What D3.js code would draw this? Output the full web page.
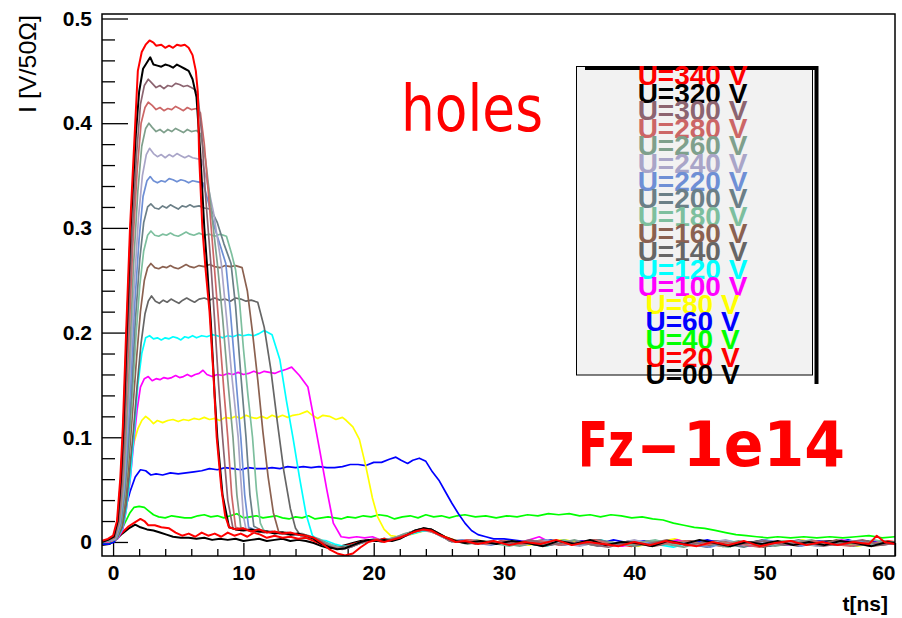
<!DOCTYPE html>
<html>
<head>
<meta charset="utf-8">
<script src="https://cdn.jsdelivr.net/npm/d3@7"></script>
<style>
  body { margin: 0; background: #ffffff; }
  svg { display: block; }
</style>
</head>
<body>
<svg id="chart" width="902" height="618"></svg>
<script>
// Bias voltages, one waveform each, listed top to bottom as in the legend
const voltages = [340, 320, 300, 280, 260, 240, 220, 200, 180, 160, 140, 120, 100, 80, 60, 40, 20, 0];
const legendLabels = ["U=340 V", "U=320 V", "U=300 V", "U=280 V", "U=260 V", "U=240 V", "U=220 V", "U=200 V", "U=180 V",
  "U=160 V", "U=140 V", "U=120 V", "U=100 V", "U=80 V", "U=60 V", "U=40 V", "U=20 V", "U=00 V"];
const colors = ["#ff0000", "#000000", "#8c6470", "#cc6666", "#7fa08c", "#a9a5c8", "#6e8fd5", "#6b7f87", "#7dbf9e",
  "#8b6150", "#666666", "#00ffff", "#ff00ff", "#ffff00", "#0000ff", "#00ff00", "#ff0000", "#000000"];

// Current waveforms: [t (ns), I (V/50 Ohm)]
const u340 = [[-0.85,0.001],[-0.4,0.003],[0.0,0.006],[0.3,0.02],[0.55,0.06],[0.75,0.11],[1.0,0.20],[1.3,0.30],[1.7,0.40],[1.9,0.45],[2.2,0.468],[2.5,0.475],[2.8,0.479],[3.1,0.477],[3.3,0.474],[3.7,0.475],[4.0,0.472],[4.3,0.474],[4.6,0.472],[4.9,0.475],[5.2,0.474],[5.5,0.475],[5.8,0.472],[6.1,0.465],[6.35,0.45],[6.5,0.43],[6.6,0.37],[6.85,0.30],[7.1,0.26],[7.4,0.22],[7.7,0.16],[7.95,0.10],[8.3,0.052],[8.6,0.025],[8.9,0.014],[9.4,0.012],[10.0,0.013],[10.6,0.010],[11.2,0.012],[11.8,0.009],[12.4,0.010],[13.0,0.008],[13.6,0.009],[14.2,0.007],[14.8,0.006],[15.4,0.004],[16.0,-0.001],[16.6,-0.007],[17.2,-0.011],[17.8,-0.013],[18.4,-0.011],[19.0,-0.005],[19.6,0.000],[20.2,0.002],[20.8,0.000],[21.4,0.002],[22.0,0.004],[22.6,0.007],[23.2,0.010],[23.8,0.012],[24.4,0.011],[25.0,0.007],[25.6,0.004],[26.3,0.000],[27.0,0.001],[28.0,-0.002],[29.2,0.001],[30.4,-0.003],[31.6,0.000],[32.8,-0.002],[34.0,0.002],[35.2,-0.003],[36.4,0.000],[37.6,-0.002],[38.8,-0.004],[40.0,0.000],[41.2,-0.003],[42.4,0.001],[43.6,-0.002],[44.8,-0.004],[46.0,0.000],[47.2,-0.003],[48.4,0.001],[49.6,-0.004],[50.8,-0.001],[52.0,0.001],[53.2,-0.003],[54.4,0.000],[55.6,-0.003],[56.8,0.000],[58.0,-0.002],[58.6,0.006],[59.2,0.000],[60.0,-0.002]];
const u320 = [[-0.85,0.000],[-0.4,0.002],[0.05,0.005],[0.35,0.02],[0.6,0.06],[0.8,0.11],[1.05,0.20],[1.35,0.30],[1.75,0.39],[2.0,0.43],[2.3,0.452],[2.6,0.458],[2.85,0.463],[3.1,0.456],[3.4,0.455],[3.7,0.454],[4.0,0.456],[4.3,0.455],[4.6,0.453],[4.9,0.456],[5.2,0.454],[5.5,0.452],[5.8,0.450],[6.1,0.442],[6.4,0.425],[6.7,0.37],[7.0,0.30],[7.2,0.266],[7.5,0.21],[7.8,0.14],[8.0,0.10],[8.4,0.045],[8.9,0.014],[9.4,0.012],[10.0,0.011],[10.6,0.012],[11.2,0.010],[11.8,0.010],[12.4,0.008],[13.0,0.009],[13.6,0.007],[14.2,0.008],[14.8,0.006],[15.4,0.003],[16.0,-0.002],[16.6,-0.005],[17.2,-0.007],[17.8,-0.006],[18.4,-0.003],[19.0,0.000],[19.6,0.002],[20.2,0.001],[20.8,0.002],[21.4,0.001],[22.0,0.003],[22.6,0.007],[23.2,0.011],[23.8,0.013],[24.4,0.012],[25.0,0.008],[25.6,0.004],[26.3,0.001],[27.0,-0.001],[28.2,0.001],[29.4,-0.002],[30.6,0.001],[31.8,-0.001],[33.0,-0.004],[34.2,0.001],[35.4,-0.002],[36.6,0.002],[37.8,-0.003],[39.0,0.000],[40.2,-0.001],[41.4,-0.004],[42.6,0.001],[43.8,-0.002],[45.0,0.002],[46.2,-0.001],[47.4,-0.004],[48.6,0.000],[49.8,-0.002],[51.0,0.001],[52.2,-0.003],[53.4,0.000],[54.6,-0.003],[55.8,0.001],[57.0,-0.001],[58.2,-0.004],[59.4,0.000],[60.0,-0.001]];
const u300 = [[-0.85,0.001],[-0.4,0.002],[0.1,0.005],[0.4,0.02],[0.65,0.055],[0.85,0.10],[1.1,0.19],[1.45,0.29],[1.8,0.37],[2.1,0.418],[2.4,0.436],[2.7,0.442],[3.0,0.438],[3.3,0.434],[3.6,0.436],[3.9,0.433],[4.2,0.436],[4.5,0.435],[4.8,0.438],[5.1,0.437],[5.4,0.435],[5.7,0.436],[6.0,0.434],[6.3,0.432],[6.5,0.428],[6.8,0.39],[7.1,0.33],[7.5,0.266],[7.8,0.21],[8.1,0.15],[8.4,0.10],[8.8,0.04],[9.2,0.013],[9.8,0.011],[10.4,0.012],[11.0,0.010],[11.6,0.009],[12.2,0.010],[12.8,0.008],[13.4,0.008],[14.0,0.007],[14.6,0.006],[15.2,0.005],[15.8,0.002],[16.4,-0.003],[17.0,-0.006],[17.6,-0.007],[18.2,-0.005],[18.8,-0.002],[19.4,0.001],[20.0,0.002],[20.6,0.000],[21.2,0.002],[21.8,0.004],[22.4,0.006],[23.0,0.009],[23.6,0.011],[24.2,0.012],[24.8,0.009],[25.4,0.005],[26.0,0.000],[26.8,0.001],[27.8,-0.002],[29.0,0.001],[30.5,-0.002],[32.0,0.002],[33.5,-0.003],[35.0,0.000],[36.5,-0.002],[38.0,-0.005],[39.5,0.000],[41.0,-0.002],[42.5,0.002],[44.0,-0.003],[45.5,0.000],[47.0,-0.004],[48.5,-0.001],[50.0,0.001],[51.5,-0.003],[53.0,0.000],[54.5,-0.004],[56.0,-0.001],[57.5,0.002],[59.0,-0.003],[60.0,-0.001]];
const u280 = [[-0.85,0.000],[-0.4,0.002],[0.1,0.004],[0.45,0.02],[0.7,0.055],[0.9,0.10],[1.2,0.19],[1.5,0.28],[1.85,0.355],[2.15,0.40],[2.45,0.415],[2.7,0.420],[3.0,0.417],[3.3,0.413],[3.6,0.415],[3.9,0.412],[4.2,0.414],[4.5,0.413],[4.8,0.416],[5.1,0.414],[5.4,0.412],[5.7,0.415],[6.0,0.413],[6.4,0.414],[6.7,0.41],[7.0,0.38],[7.4,0.32],[7.75,0.266],[8.1,0.21],[8.5,0.145],[8.8,0.10],[9.1,0.045],[9.4,0.014],[10.0,0.012],[10.6,0.010],[11.2,0.011],[11.8,0.009],[12.4,0.010],[13.0,0.008],[13.6,0.007],[14.2,0.008],[14.8,0.006],[15.4,0.004],[16.0,0.000],[16.6,-0.004],[17.2,-0.006],[17.8,-0.006],[18.4,-0.004],[19.0,-0.001],[19.6,0.001],[20.2,0.003],[20.8,0.001],[21.4,0.002],[22.0,0.005],[22.6,0.007],[23.2,0.010],[23.8,0.012],[24.4,0.010],[25.0,0.007],[25.6,0.003],[26.4,0.000],[27.4,0.002],[28.6,-0.002],[30.0,0.001],[31.4,-0.002],[32.8,0.001],[34.2,-0.003],[35.6,-0.001],[37.0,0.002],[38.4,-0.003],[39.8,0.000],[41.2,-0.004],[42.6,-0.001],[44.0,0.001],[45.4,-0.003],[46.8,0.000],[48.2,-0.002],[49.6,-0.005],[51.0,0.000],[52.4,-0.003],[53.8,0.001],[55.2,-0.002],[56.6,-0.004],[58.0,0.000],[59.4,-0.002],[60.0,-0.001]];
const u260 = [[-0.85,0.001],[-0.4,0.001],[0.15,0.004],[0.5,0.02],[0.75,0.05],[0.95,0.09],[1.25,0.17],[1.55,0.26],[1.9,0.335],[2.2,0.378],[2.5,0.395],[2.75,0.400],[3.0,0.396],[3.3,0.392],[3.6,0.394],[3.9,0.391],[4.2,0.394],[4.5,0.392],[4.8,0.395],[5.1,0.393],[5.4,0.391],[5.7,0.394],[6.0,0.392],[6.4,0.393],[6.7,0.39],[7.1,0.365],[7.6,0.31],[8.0,0.266],[8.4,0.215],[8.8,0.155],[9.2,0.10],[9.5,0.045],[9.8,0.014],[10.4,0.011],[11.0,0.010],[11.6,0.011],[12.2,0.009],[12.8,0.009],[13.4,0.007],[14.0,0.008],[14.6,0.006],[15.2,0.005],[15.8,0.002],[16.4,-0.002],[17.0,-0.005],[17.6,-0.006],[18.2,-0.004],[18.8,-0.001],[19.4,0.001],[20.0,0.002],[20.6,0.001],[21.2,0.003],[21.8,0.005],[22.4,0.008],[23.0,0.010],[23.6,0.011],[24.2,0.011],[24.8,0.008],[25.4,0.004],[26.2,0.001],[27.2,-0.002],[28.4,0.001],[29.8,-0.001],[31.2,-0.004],[32.6,0.000],[34.0,-0.002],[35.4,0.002],[36.8,-0.003],[38.2,0.000],[39.6,-0.003],[41.0,0.001],[42.4,-0.002],[43.8,-0.005],[45.2,0.000],[46.6,-0.003],[48.0,0.001],[49.4,-0.002],[50.8,-0.004],[52.2,-0.001],[53.6,0.002],[55.0,-0.003],[56.4,0.000],[57.8,-0.003],[59.2,0.001],[60.0,-0.001]];
const u240 = [[-0.85,0.000],[-0.4,0.001],[0.15,0.003],[0.5,0.018],[0.8,0.05],[1.0,0.09],[1.3,0.16],[1.6,0.24],[1.95,0.31],[2.25,0.35],[2.55,0.370],[2.8,0.376],[3.1,0.371],[3.4,0.368],[3.7,0.370],[4.0,0.367],[4.3,0.370],[4.6,0.368],[4.9,0.371],[5.2,0.369],[5.5,0.367],[5.8,0.369],[6.1,0.367],[6.5,0.366],[6.8,0.365],[7.2,0.345],[7.7,0.315],[8.3,0.266],[8.7,0.215],[9.1,0.16],[9.6,0.10],[9.8,0.06],[10.0,0.025],[10.2,0.012],[10.8,0.010],[11.4,0.011],[12.0,0.009],[12.6,0.009],[13.2,0.008],[13.8,0.007],[14.4,0.008],[15.0,0.005],[15.6,0.003],[16.2,-0.001],[16.8,-0.004],[17.4,-0.006],[18.0,-0.005],[18.6,-0.002],[19.2,0.000],[19.8,0.002],[20.4,0.001],[21.0,0.002],[21.6,0.004],[22.2,0.007],[22.8,0.009],[23.4,0.011],[24.0,0.012],[24.6,0.009],[25.2,0.005],[25.8,0.002],[26.6,0.000],[27.6,0.002],[28.8,-0.002],[30.2,0.001],[31.6,-0.002],[33.0,0.001],[34.4,-0.001],[35.8,-0.004],[37.2,0.000],[38.6,-0.002],[40.0,0.002],[41.4,-0.003],[42.8,0.000],[44.2,-0.003],[45.6,-0.001],[47.0,0.002],[48.4,-0.003],[49.8,0.000],[51.2,-0.003],[52.6,0.001],[54.0,-0.004],[55.4,-0.001],[56.8,0.001],[58.2,-0.003],[59.6,-0.001],[60.0,-0.001]];
const u220 = [[-0.85,0.001],[-0.4,0.001],[0.2,0.003],[0.55,0.018],[0.85,0.05],[1.05,0.085],[1.35,0.15],[1.65,0.225],[2.0,0.29],[2.3,0.33],[2.6,0.345],[2.85,0.349],[3.1,0.345],[3.4,0.343],[3.7,0.345],[4.0,0.344],[4.3,0.347],[4.6,0.346],[4.9,0.344],[5.2,0.346],[5.5,0.345],[5.8,0.343],[6.1,0.345],[6.5,0.344],[6.9,0.343],[7.3,0.325],[7.8,0.30],[8.3,0.28],[8.65,0.266],[9.0,0.22],[9.4,0.16],[9.8,0.10],[10.1,0.045],[10.4,0.014],[11.0,0.011],[11.6,0.010],[12.2,0.010],[12.8,0.008],[13.4,0.009],[14.0,0.007],[14.6,0.006],[15.2,0.005],[15.8,0.002],[16.4,-0.002],[17.0,-0.005],[17.6,-0.007],[18.2,-0.005],[18.8,-0.002],[19.4,0.001],[20.0,0.003],[20.6,0.001],[21.2,0.002],[21.8,0.005],[22.4,0.007],[23.0,0.010],[23.6,0.012],[24.2,0.011],[24.8,0.008],[25.4,0.004],[26.0,0.001],[26.8,0.002],[27.8,-0.001],[29.0,-0.003],[30.4,0.001],[31.8,-0.001],[33.2,0.002],[34.6,-0.003],[36.0,0.000],[37.4,-0.004],[38.8,-0.001],[40.2,0.001],[41.6,-0.003],[43.0,0.000],[44.4,-0.002],[45.8,-0.005],[47.2,0.000],[48.6,-0.003],[50.0,0.002],[51.4,-0.001],[52.8,-0.004],[54.2,0.000],[55.6,-0.003],[57.0,0.001],[58.4,-0.002],[60.0,-0.002]];
const u200 = [[-0.85,0.000],[-0.4,0.001],[0.2,0.003],[0.6,0.018],[0.9,0.05],[1.1,0.08],[1.4,0.14],[1.7,0.21],[2.05,0.27],[2.35,0.305],[2.65,0.320],[2.9,0.323],[3.2,0.319],[3.5,0.318],[3.8,0.321],[4.1,0.319],[4.4,0.322],[4.7,0.320],[5.0,0.318],[5.3,0.321],[5.6,0.320],[5.9,0.322],[6.2,0.320],[6.6,0.321],[7.0,0.319],[7.5,0.318],[8.0,0.305],[8.5,0.285],[9.05,0.266],[9.4,0.225],[9.8,0.16],[10.2,0.10],[10.5,0.045],[10.8,0.015],[11.4,0.011],[12.0,0.010],[12.6,0.009],[13.2,0.009],[13.8,0.007],[14.4,0.007],[15.0,0.006],[15.6,0.003],[16.2,0.000],[16.8,-0.004],[17.4,-0.006],[18.0,-0.006],[18.6,-0.003],[19.2,0.000],[19.8,0.002],[20.4,0.002],[21.0,0.001],[21.6,0.004],[22.2,0.006],[22.8,0.009],[23.4,0.011],[24.0,0.012],[24.6,0.010],[25.2,0.006],[25.8,0.002],[26.6,0.000],[27.6,0.001],[28.8,-0.002],[30.2,0.001],[31.6,-0.001],[33.0,-0.004],[34.4,0.000],[35.8,-0.003],[37.2,0.002],[38.6,-0.001],[40.0,-0.004],[41.4,-0.001],[42.8,0.001],[44.2,-0.003],[45.6,0.000],[47.0,-0.002],[48.4,-0.005],[49.8,0.000],[51.2,-0.002],[52.6,0.002],[54.0,-0.003],[55.4,0.000],[56.8,-0.004],[58.2,-0.001],[60.0,0.000]];
const u180 = [[-0.85,0.000],[-0.4,0.001],[0.25,0.003],[0.6,0.016],[0.9,0.045],[1.15,0.08],[1.45,0.135],[1.75,0.195],[2.05,0.245],[2.35,0.278],[2.65,0.293],[2.9,0.297],[3.2,0.293],[3.5,0.292],[3.8,0.294],[4.1,0.293],[4.4,0.295],[4.7,0.293],[5.0,0.292],[5.3,0.294],[5.6,0.296],[5.9,0.294],[6.2,0.293],[6.6,0.295],[7.0,0.293],[7.4,0.294],[7.8,0.292],[8.2,0.294],[8.7,0.292],[9.1,0.275],[9.4,0.26],[9.7,0.23],[10.0,0.185],[10.35,0.14],[10.7,0.10],[11.0,0.05],[11.3,0.018],[11.6,0.010],[12.2,0.010],[12.8,0.008],[13.4,0.009],[14.0,0.007],[14.6,0.007],[15.2,0.005],[15.8,0.003],[16.4,-0.001],[17.0,-0.004],[17.6,-0.006],[18.2,-0.004],[18.8,-0.001],[19.4,0.001],[20.0,0.002],[20.6,0.000],[21.2,0.002],[21.8,0.004],[22.4,0.007],[23.0,0.010],[23.6,0.011],[24.2,0.012],[24.8,0.009],[25.4,0.005],[26.0,0.001],[26.8,0.000],[27.8,0.002],[29.0,-0.001],[30.4,-0.004],[31.8,0.000],[33.2,-0.002],[34.6,0.002],[36.0,-0.003],[37.4,0.000],[38.8,-0.003],[40.2,-0.001],[41.6,0.002],[43.0,-0.003],[44.4,0.000],[45.8,-0.002],[47.2,-0.005],[48.6,0.000],[50.0,-0.003],[51.4,0.001],[52.8,-0.002],[54.2,-0.004],[55.6,0.000],[57.0,-0.002],[58.4,0.002],[60.0,-0.002]];
const u160 = [[-0.85,0.000],[-0.4,0.001],[0.25,0.003],[0.65,0.015],[0.95,0.04],[1.2,0.075],[1.5,0.125],[1.8,0.175],[2.1,0.22],[2.4,0.25],[2.65,0.262],[2.9,0.266],[3.2,0.262],[3.5,0.261],[3.8,0.263],[4.1,0.262],[4.4,0.264],[4.7,0.262],[5.0,0.261],[5.3,0.263],[5.6,0.265],[5.9,0.263],[6.2,0.262],[6.6,0.264],[7.0,0.263],[7.4,0.265],[7.8,0.263],[8.2,0.262],[8.6,0.264],[9.0,0.263],[9.4,0.264],[9.9,0.262],[10.3,0.24],[10.7,0.20],[11.1,0.155],[11.5,0.105],[11.9,0.062],[12.3,0.028],[12.7,0.010],[13.3,0.009],[13.9,0.007],[14.5,0.008],[15.1,0.005],[15.7,0.003],[16.3,-0.001],[16.9,-0.004],[17.5,-0.006],[18.1,-0.005],[18.7,-0.002],[19.3,0.000],[19.9,0.002],[20.5,0.001],[21.1,0.002],[21.7,0.004],[22.3,0.006],[22.9,0.009],[23.5,0.011],[24.1,0.012],[24.7,0.010],[25.3,0.006],[25.9,0.001],[26.7,0.000],[27.7,0.002],[28.9,-0.002],[30.3,0.001],[31.7,-0.001],[33.1,-0.004],[34.5,0.000],[35.9,-0.002],[37.3,0.002],[38.7,-0.003],[40.1,0.000],[41.5,-0.004],[42.9,-0.001],[44.3,0.001],[45.7,-0.003],[47.1,0.000],[48.5,-0.002],[49.9,-0.005],[51.3,-0.001],[52.7,0.001],[54.1,-0.003],[55.5,0.002],[56.9,-0.002],[58.3,-0.004],[60.0,-0.001]];
const u140 = [[-0.85,0.000],[-0.4,0.001],[0.3,0.003],[0.7,0.014],[1.0,0.035],[1.25,0.065],[1.55,0.105],[1.85,0.15],[2.15,0.19],[2.45,0.218],[2.7,0.230],[2.95,0.235],[3.25,0.230],[3.55,0.228],[3.85,0.231],[4.15,0.229],[4.45,0.232],[4.75,0.230],[5.05,0.228],[5.35,0.231],[5.65,0.233],[5.95,0.231],[6.25,0.229],[6.6,0.232],[7.0,0.233],[7.4,0.231],[7.8,0.233],[8.2,0.231],[8.6,0.232],[9.0,0.230],[9.4,0.233],[9.8,0.232],[10.2,0.230],[10.6,0.231],[11.1,0.229],[11.6,0.205],[12.1,0.165],[12.6,0.115],[13.1,0.068],[13.6,0.032],[14.0,0.013],[14.4,0.006],[15.0,0.005],[15.6,0.003],[16.2,0.000],[16.8,-0.003],[17.4,-0.005],[18.0,-0.004],[18.6,-0.002],[19.2,0.000],[19.8,0.002],[20.4,0.001],[21.0,0.002],[21.6,0.004],[22.2,0.006],[22.8,0.009],[23.4,0.011],[24.0,0.012],[24.6,0.010],[25.2,0.006],[25.8,0.001],[26.6,0.000],[27.6,0.001],[28.8,-0.002],[30.2,0.001],[31.6,-0.001],[33.0,0.002],[34.4,-0.003],[35.8,0.000],[37.2,-0.004],[38.6,-0.001],[40.0,0.001],[41.4,-0.003],[42.8,0.000],[44.2,-0.002],[45.6,-0.005],[47.0,0.000],[48.4,-0.003],[49.8,0.002],[51.2,-0.001],[52.6,-0.004],[54.0,0.000],[55.4,-0.003],[56.8,0.001],[58.2,-0.002],[60.0,-0.002]];
const u120 = [[-0.85,0.000],[-0.4,0.001],[0.3,0.003],[0.7,0.012],[1.0,0.03],[1.35,0.065],[1.65,0.11],[1.9,0.15],[2.2,0.18],[2.5,0.195],[2.8,0.197],[3.1,0.194],[3.4,0.195],[3.7,0.193],[4.0,0.195],[4.3,0.194],[4.6,0.196],[4.9,0.195],[5.2,0.193],[5.5,0.196],[5.8,0.195],[6.1,0.197],[6.4,0.195],[6.8,0.197],[7.2,0.196],[7.6,0.198],[8.0,0.197],[8.4,0.195],[8.8,0.197],[9.2,0.196],[9.6,0.198],[10.0,0.197],[10.4,0.198],[10.8,0.197],[11.2,0.199],[11.6,0.202],[12.2,0.198],[12.8,0.174],[13.3,0.135],[13.8,0.10],[14.3,0.062],[14.8,0.027],[15.3,0.006],[15.8,0.002],[16.4,0.001],[17.0,-0.002],[17.6,-0.004],[18.2,-0.004],[18.8,-0.002],[19.4,0.000],[20.0,0.002],[20.6,0.001],[21.2,0.003],[21.8,0.004],[22.4,0.006],[23.0,0.008],[23.6,0.010],[24.2,0.011],[24.8,0.008],[25.4,0.005],[26.0,0.001],[26.8,0.000],[27.8,0.001],[29.0,-0.002],[30.4,0.001],[31.8,-0.001],[33.2,-0.004],[34.6,0.000],[36.0,-0.002],[37.4,0.002],[38.8,-0.003],[40.2,0.000],[41.6,-0.002],[43.0,-0.005],[44.4,0.000],[45.8,-0.003],[47.2,0.001],[48.6,-0.002],[50.0,0.002],[51.4,-0.003],[52.8,0.000],[54.2,-0.004],[55.6,-0.001],[57.0,0.001],[58.4,-0.003],[60.0,-0.001]];
const u100 = [[-0.85,0.000],[-0.4,0.000],[0.35,0.003],[0.75,0.012],[1.0,0.03],[1.3,0.058],[1.6,0.097],[1.85,0.127],[2.1,0.148],[2.4,0.156],[2.7,0.158],[3.0,0.154],[3.3,0.156],[3.6,0.155],[3.9,0.157],[4.2,0.156],[4.5,0.157],[4.8,0.159],[5.1,0.157],[5.4,0.158],[5.7,0.160],[6.0,0.158],[6.3,0.160],[6.6,0.161],[6.9,0.164],[7.2,0.160],[7.6,0.158],[8.0,0.160],[8.4,0.159],[8.8,0.161],[9.2,0.160],[9.6,0.162],[10.0,0.160],[10.4,0.161],[10.8,0.163],[11.2,0.161],[11.6,0.163],[12.0,0.162],[12.4,0.161],[12.8,0.163],[13.3,0.165],[13.7,0.167],[14.3,0.159],[14.95,0.148],[15.3,0.125],[15.85,0.088],[16.4,0.05],[16.9,0.018],[17.5,0.005],[18.1,0.004],[18.7,0.005],[19.3,0.004],[19.9,0.005],[20.5,0.002],[21.1,0.001],[21.7,0.003],[22.3,0.005],[22.9,0.008],[23.5,0.010],[24.1,0.011],[24.7,0.009],[25.3,0.005],[25.9,0.002],[26.7,0.000],[27.7,0.002],[28.9,-0.001],[30.3,-0.002],[31.7,0.001],[32.7,0.005],[33.5,0.000],[34.9,-0.002],[36.3,0.001],[37.7,-0.002],[39.1,-0.004],[40.5,0.000],[41.9,-0.002],[43.3,0.002],[44.7,-0.003],[46.1,0.000],[47.5,-0.002],[48.9,-0.004],[50.3,0.001],[51.7,-0.003],[53.1,0.001],[54.5,-0.002],[55.9,0.002],[57.3,-0.003],[58.7,0.000],[60.0,-0.001]];
const u80 = [[-0.85,0.000],[-0.4,0.000],[0.3,0.003],[0.6,0.015],[0.9,0.035],[1.1,0.06],[1.35,0.08],[1.6,0.095],[1.9,0.108],[2.2,0.116],[2.5,0.120],[2.8,0.117],[3.1,0.113],[3.4,0.116],[3.8,0.114],[4.2,0.116],[4.6,0.117],[5.0,0.115],[5.4,0.117],[5.8,0.116],[6.2,0.118],[6.6,0.117],[7.0,0.119],[7.4,0.117],[7.8,0.118],[8.2,0.116],[8.6,0.119],[9.0,0.118],[9.4,0.120],[9.8,0.118],[10.2,0.121],[10.6,0.119],[11.0,0.118],[11.4,0.120],[11.8,0.118],[12.2,0.121],[12.6,0.119],[13.0,0.121],[13.4,0.119],[13.8,0.121],[14.3,0.122],[14.9,0.125],[15.3,0.121],[15.7,0.118],[16.1,0.121],[16.6,0.120],[17.1,0.117],[17.6,0.119],[17.9,0.116],[18.4,0.110],[18.9,0.098],[19.4,0.072],[19.9,0.042],[20.3,0.024],[20.8,0.012],[21.3,0.006],[21.9,0.005],[22.5,0.006],[23.1,0.008],[23.7,0.010],[24.3,0.011],[24.9,0.008],[25.5,0.005],[26.1,0.002],[26.9,0.000],[27.9,0.002],[29.1,-0.001],[30.5,0.001],[31.9,-0.003],[33.3,0.001],[34.7,0.002],[36.1,-0.002],[37.5,0.001],[38.9,-0.002],[40.3,-0.004],[41.7,0.000],[43.1,0.003],[44.5,-0.002],[45.9,0.000],[47.3,-0.002],[48.7,-0.004],[50.1,0.000],[51.5,-0.002],[52.9,0.002],[54.3,-0.003],[55.7,0.000],[57.1,-0.004],[58.5,-0.001],[60.0,0.000]];
const u60 = [[-0.85,-0.002],[-0.3,-0.002],[0.1,0.000],[0.5,0.012],[0.9,0.03],[1.3,0.048],[1.7,0.062],[2.1,0.069],[2.5,0.068],[2.9,0.064],[3.3,0.065],[3.8,0.064],[4.4,0.066],[5.0,0.065],[5.6,0.066],[6.2,0.067],[6.8,0.068],[7.4,0.070],[8.0,0.069],[8.6,0.071],[9.2,0.070],[9.8,0.069],[10.4,0.071],[11.0,0.070],[11.6,0.070],[12.2,0.071],[12.8,0.070],[13.4,0.072],[14.0,0.071],[14.6,0.072],[15.2,0.071],[15.8,0.072],[16.4,0.071],[17.0,0.071],[17.6,0.072],[18.2,0.074],[18.8,0.074],[19.4,0.073],[20.0,0.076],[20.6,0.076],[21.2,0.079],[21.7,0.081],[22.1,0.078],[22.6,0.075],[23.0,0.078],[23.5,0.080],[24.0,0.077],[24.5,0.067],[25.0,0.059],[25.5,0.048],[26.0,0.037],[26.5,0.027],[27.0,0.018],[27.5,0.011],[28.0,0.007],[28.6,0.005],[29.2,0.003],[30.0,0.003],[31.2,0.001],[32.4,-0.001],[33.6,0.002],[34.8,-0.001],[36.0,0.001],[37.2,-0.002],[38.4,0.002],[39.6,-0.001],[40.8,0.001],[42.0,-0.002],[43.2,0.001],[44.4,-0.001],[45.6,0.002],[46.8,-0.002],[48.0,0.000],[49.2,-0.001],[50.4,-0.004],[51.6,0.000],[52.8,-0.002],[54.0,0.001],[55.2,-0.001],[56.4,0.002],[57.6,-0.002],[58.8,0.001],[60.0,-0.001]];
const u40 = [[-0.85,-0.002],[-0.3,-0.001],[0.1,0.001],[0.5,0.008],[0.9,0.018],[1.3,0.028],[1.6,0.033],[2.0,0.034],[2.4,0.033],[2.7,0.030],[3.1,0.026],[3.5,0.024],[4.0,0.023],[4.5,0.025],[5.0,0.024],[5.5,0.023],[6.0,0.023],[6.5,0.025],[7.0,0.026],[7.5,0.024],[8.0,0.025],[8.5,0.023],[9.0,0.025],[9.5,0.027],[10.0,0.023],[10.5,0.024],[11.0,0.025],[11.5,0.023],[12.0,0.024],[12.5,0.025],[13.0,0.023],[13.5,0.022],[14.0,0.024],[14.5,0.023],[15.0,0.025],[15.5,0.022],[16.0,0.023],[16.5,0.024],[17.0,0.023],[17.5,0.022],[18.0,0.024],[18.6,0.023],[19.2,0.025],[19.8,0.024],[20.4,0.026],[21.0,0.025],[21.6,0.022],[22.2,0.024],[22.8,0.025],[23.4,0.023],[24.0,0.026],[24.6,0.024],[25.2,0.025],[25.8,0.023],[26.4,0.025],[27.0,0.026],[27.8,0.024],[28.6,0.025],[29.4,0.023],[30.2,0.025],[31.0,0.024],[31.8,0.026],[32.6,0.025],[33.4,0.027],[34.2,0.026],[35.0,0.027],[35.8,0.025],[36.6,0.026],[37.4,0.024],[38.2,0.026],[39.0,0.025],[39.8,0.023],[40.6,0.024],[41.4,0.022],[42.2,0.021],[43.0,0.018],[43.8,0.016],[44.6,0.014],[45.4,0.013],[46.2,0.011],[47.0,0.009],[47.8,0.007],[48.6,0.006],[49.4,0.005],[50.2,0.004],[51.0,0.005],[52.0,0.004],[53.0,0.005],[54.0,0.004],[55.0,0.005],[56.0,0.004],[57.0,0.005],[58.0,0.006],[59.0,0.004],[60.0,0.005]];
const u20 = [[-0.85,-0.002],[-0.3,0.000],[0.2,0.003],[0.7,0.009],[1.2,0.015],[1.7,0.019],[2.1,0.022],[2.4,0.020],[2.7,0.016],[3.2,0.016],[3.7,0.014],[4.3,0.013],[4.8,0.009],[5.3,0.006],[5.8,0.008],[6.3,0.005],[6.8,0.009],[7.3,0.006],[7.8,0.008],[8.3,0.005],[8.8,0.009],[9.3,0.006],[9.8,0.008],[10.3,0.005],[10.8,0.009],[11.3,0.007],[11.8,0.004],[12.4,0.006],[13.0,0.004],[13.6,0.005],[14.2,0.003],[14.8,0.004],[15.4,0.001],[16.0,-0.002],[16.6,-0.004],[17.2,-0.005],[17.8,-0.004],[18.4,-0.002],[19.0,0.000],[19.6,0.002],[20.2,0.001],[20.8,0.003],[21.4,0.002],[22.0,0.004],[22.6,0.007],[23.2,0.009],[23.8,0.011],[24.4,0.010],[25.0,0.007],[25.6,0.004],[26.4,0.001],[27.4,0.002],[28.6,-0.002],[30.0,0.001],[31.4,-0.003],[32.8,0.000],[34.2,0.001],[35.6,-0.002],[37.0,0.001],[38.4,-0.001],[39.8,-0.004],[41.2,0.001],[42.6,-0.002],[44.0,0.001],[45.4,-0.001],[46.8,-0.004],[48.2,0.000],[49.6,-0.002],[51.0,0.000],[52.4,0.001],[53.8,-0.003],[55.2,-0.001],[56.6,0.001],[58.0,-0.002],[59.4,0.001],[60.0,0.000]];
const u0 = [[-0.85,-0.003],[-0.3,-0.002],[0.2,0.002],[0.7,0.008],[1.2,0.013],[1.7,0.0165],[2.1,0.014],[2.6,0.012],[3.1,0.011],[3.6,0.009],[4.1,0.007],[4.6,0.005],[5.2,0.004],[5.8,0.004],[6.4,0.003],[7.0,0.004],[7.6,0.002],[8.2,0.003],[8.8,0.002],[9.4,0.003],[10.0,0.001],[10.6,0.002],[11.2,0.003],[11.8,0.001],[12.4,0.002],[13.0,0.003],[13.6,0.001],[14.2,0.002],[14.8,0.001],[15.4,-0.001],[16.0,-0.004],[16.6,-0.006],[17.2,-0.005],[17.8,-0.003],[18.4,-0.001],[19.0,0.001],[19.6,0.002],[20.2,0.001],[20.8,0.003],[21.4,0.002],[22.0,0.005],[22.6,0.008],[23.2,0.011],[23.8,0.013],[24.4,0.012],[25.0,0.008],[25.6,0.004],[26.4,0.000],[27.4,0.001],[28.6,-0.002],[30.0,0.001],[31.4,-0.001],[32.8,-0.003],[34.2,0.001],[35.6,-0.001],[37.0,0.002],[38.4,-0.002],[39.8,0.001],[41.2,-0.002],[42.6,0.001],[44.0,-0.003],[45.4,0.000],[46.8,0.001],[48.2,-0.002],[49.6,0.001],[51.0,-0.001],[52.4,-0.003],[53.8,0.000],[55.2,0.001],[56.6,-0.002],[58.0,0.001],[59.4,-0.002],[60.0,0.000]];

const waveforms = [u340, u320, u300, u280, u260, u240, u220, u200, u180, u160, u140, u120, u100, u80, u60, u40, u20, u0];

const xMajorTicks = [0, 10, 20, 30, 40, 50, 60];
const yMajorTicks = [0, 0.1, 0.2, 0.3, 0.4, 0.5];
const xTickLabels = ["0", "10", "20", "30", "40", "50", "60"];
const yTickLabels = ["0", "0.1", "0.2", "0.3", "0.4", "0.5"];

const svg = d3.select("#chart");
const frame = { left: 102, right: 895, top: 14, bottom: 556 };

const x = d3.scaleLinear().domain([-0.85, 60]).range([frame.left, frame.right]);
const y = d3.scaleLinear().domain([-0.0134, 0.5043]).range([frame.bottom, frame.top]);

svg.append("rect").attr("width", 902).attr("height", 618).attr("fill", "#ffffff");

svg.append("defs").append("clipPath").attr("id", "plotClip")
  .append("rect")
  .attr("x", frame.left).attr("y", frame.top)
  .attr("width", frame.right - frame.left).attr("height", frame.bottom - frame.top);

const labelFont = "'Liberation Sans', Arial, Helvetica, sans-serif";
const titleFont = "'DejaVu Sans Condensed', 'DejaVu Sans', sans-serif";

// Minor ticks
const xMinor = d3.range(0, 61, 2).filter(v => v % 10 !== 0);
const yMinor = d3.range(0, 51, 2).map(v => v / 100).filter(v => Math.round(v * 100) % 10 !== 0);

svg.append("g").attr("transform", `translate(0,${frame.bottom})`)
  .call(d3.axisBottom(x).tickValues(xMinor).tickSizeInner(-7).tickSizeOuter(0).tickFormat(""))
  .call(g => g.select(".domain").remove())
  .call(g => g.selectAll("line").attr("stroke", "#000").attr("stroke-width", 1.3));

svg.append("g").attr("transform", `translate(${frame.left},0)`)
  .call(d3.axisLeft(y).tickValues(yMinor).tickSizeInner(-13).tickSizeOuter(0).tickFormat(""))
  .call(g => g.select(".domain").remove())
  .call(g => g.selectAll("line").attr("stroke", "#000").attr("stroke-width", 1.3));

// Major ticks and labels
const xAxis = svg.append("g").attr("transform", `translate(0,${frame.bottom})`)
  .call(d3.axisBottom(x).tickValues(xMajorTicks).tickSizeInner(-13).tickSizeOuter(0).tickPadding(9)
    .tickFormat((d, i) => xTickLabels[i]))
  .call(g => g.select(".domain").remove());
xAxis.selectAll("line").attr("stroke", "#000").attr("stroke-width", 1.3);
xAxis.selectAll("text").attr("font-family", labelFont).attr("font-weight", "bold")
  .attr("font-size", 21).attr("fill", "#000");
xAxis.selectAll(".tick").filter(d => d === 60).select("text").attr("text-anchor", "end").attr("x", 0);

const yAxis = svg.append("g").attr("transform", `translate(${frame.left},0)`)
  .call(d3.axisLeft(y).tickValues(yMajorTicks).tickSizeInner(-26).tickSizeOuter(0).tickPadding(10)
    .tickFormat((d, i) => yTickLabels[i]))
  .call(g => g.select(".domain").remove());
yAxis.selectAll("line").attr("stroke", "#000").attr("stroke-width", 1.3);
yAxis.selectAll("text").attr("font-family", labelFont).attr("font-weight", "bold")
  .attr("font-size", 21).attr("fill", "#000");

// Waveforms, low bias drawn first
const line = d3.line().x(d => x(d[0])).y(d => y(d[1]));
const plot = svg.append("g").attr("clip-path", "url(#plotClip)");
for (let i = waveforms.length - 1; i >= 0; i--) {
  plot.append("path")
    .datum(waveforms[i])
    .attr("d", line)
    .attr("fill", "none")
    .attr("stroke", colors[i])
    .attr("stroke-width", (i <= 1 || i >= 16) ? 2 : 1.7)
    .attr("stroke-linejoin", "round");
}

// Frame
svg.append("rect")
  .attr("x", frame.left).attr("y", frame.top)
  .attr("width", frame.right - frame.left).attr("height", frame.bottom - frame.top)
  .attr("fill", "none").attr("stroke", "#000").attr("stroke-width", 1.5);

// Axis titles
svg.append("text")
  .attr("transform", "translate(36,15) rotate(-90)")
  .attr("text-anchor", "end")
  .attr("font-family", labelFont).attr("font-size", 24)
  .attr("textLength", 98).attr("lengthAdjust", "spacingAndGlyphs")
  .text("I [V/50\u03A9]");

svg.append("text")
  .attr("x", 888).attr("y", 611)
  .attr("text-anchor", "end")
  .attr("font-family", labelFont).attr("font-weight", "bold").attr("font-size", 21)
  .text("t[ns]");

// Legend
const legend = svg.append("g");
legend.append("rect")
  .attr("x", 576.5).attr("y", 66.5).attr("width", 236).attr("height", 308.5)
  .attr("fill", "#f2f2f2").attr("stroke", "#000").attr("stroke-width", 1);
legend.append("line").attr("x1", 585).attr("x2", 818).attr("y1", 68).attr("y2", 68)
  .attr("stroke", "#000").attr("stroke-width", 4);
legend.append("line").attr("x1", 816.5).attr("x2", 816.5).attr("y1", 66).attr("y2", 384)
  .attr("stroke", "#000").attr("stroke-width", 4);
legend.selectAll("text.entry")
  .data(legendLabels)
  .join("text")
  .attr("class", "entry")
  .attr("x", 692.5)
  .attr("y", (d, i) => 85 + i * 17.6)
  .attr("text-anchor", "middle")
  .attr("font-family", labelFont).attr("font-weight", "bold").attr("font-size", 28)
  .attr("fill", (d, i) => colors[i])
  .text(d => d);

// Annotations
svg.append("text")
  .attr("x", 401).attr("y", 131)
  .attr("font-family", titleFont)
  .attr("font-size", 64).attr("fill", "#ff0000")
  .attr("textLength", 142).attr("lengthAdjust", "spacingAndGlyphs")
  .text("holes");

const sample = svg.append("text")
  .attr("y", 466)
  .attr("font-family", titleFont)
  .attr("font-weight", "bold").attr("font-size", 62).attr("fill", "#ff0000");
sample.append("tspan").attr("x", 578).attr("textLength", 56).attr("lengthAdjust", "spacingAndGlyphs").text("Fz");
sample.append("tspan").attr("x", 638).attr("textLength", 41).attr("lengthAdjust", "spacingAndGlyphs").text("\u2013");
sample.append("tspan").attr("x", 683).attr("textLength", 162).attr("lengthAdjust", "spacingAndGlyphs").text("1e14");
</script>
</body>
</html>
